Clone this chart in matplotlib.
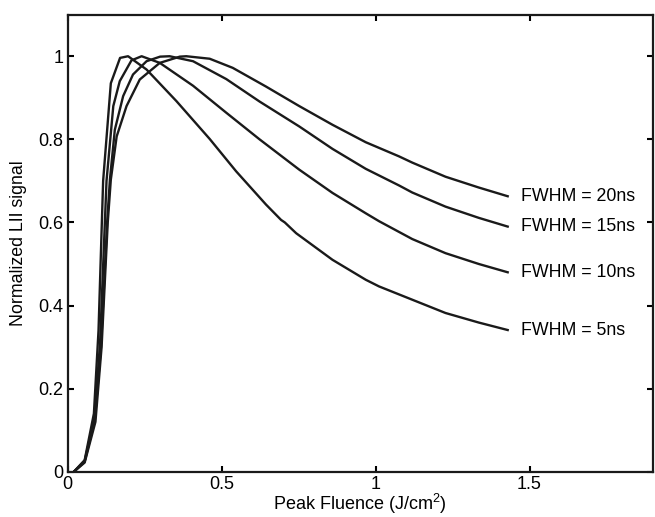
from matplotlib import pyplot as plt

plt.rcParams['font.family'] = ['Liberation Sans', 'DejaVu Sans']
plt.rcParams['mathtext.fontset'] = 'custom'
plt.rcParams['mathtext.rm'] = 'Liberation Sans'

# LII signal vs peak fluence
x_5ns = [0.02, 0.055, 0.085, 0.10, 0.115, 0.14, 0.17, 0.196, 0.256, 0.353, 0.461,
         0.547, 0.644, 0.693, 0.705, 0.742, 0.86, 0.968, 1.011, 1.119, 1.227, 1.335, 1.429]
y_5ns = [0.0, 0.028, 0.14, 0.34, 0.70, 0.935, 0.996, 1.0, 0.968, 0.892, 0.801,
         0.723, 0.643, 0.606, 0.600, 0.574, 0.51, 0.462, 0.446, 0.414, 0.382, 0.359, 0.341]

x_10ns = [0.02, 0.055, 0.087, 0.105, 0.126, 0.148, 0.169, 0.207, 0.24, 0.299, 0.407,
          0.515, 0.623, 0.752, 0.86, 0.968, 1.011, 1.119, 1.227, 1.335, 1.429]
y_10ns = [0.0, 0.026, 0.13, 0.31, 0.70, 0.88, 0.94, 0.99, 1.0, 0.984, 0.929,
          0.864, 0.80, 0.727, 0.671, 0.622, 0.603, 0.560, 0.526, 0.500, 0.480]

x_15ns = [0.02, 0.055, 0.088, 0.108, 0.128, 0.137, 0.153, 0.18, 0.212, 0.256, 0.30,
          0.331, 0.407, 0.515, 0.623, 0.752, 0.86, 0.968, 1.076, 1.119, 1.227, 1.335, 1.429]
y_15ns = [0.0, 0.024, 0.125, 0.30, 0.60, 0.703, 0.823, 0.904, 0.956, 0.988, 0.999,
          1.0, 0.988, 0.945, 0.891, 0.831, 0.777, 0.729, 0.689, 0.672, 0.638, 0.611, 0.590]

x_20ns = [0.02, 0.055, 0.09, 0.11, 0.13, 0.14, 0.159, 0.191, 0.234, 0.299, 0.364,
          0.385, 0.461, 0.536, 0.644, 0.752, 0.86, 0.968, 1.076, 1.119, 1.227, 1.335, 1.429]
y_20ns = [0.0, 0.022, 0.12, 0.30, 0.60, 0.703, 0.807, 0.88, 0.944, 0.984, 0.999,
          1.0, 0.994, 0.972, 0.927, 0.880, 0.835, 0.793, 0.759, 0.744, 0.710, 0.684, 0.663]

series = [
    (x_20ns, y_20ns, 'FWHM = 20ns'),
    (x_15ns, y_15ns, 'FWHM = 15ns'),
    (x_10ns, y_10ns, 'FWHM = 10ns'),
    (x_5ns, y_5ns, 'FWHM = 5ns'),
]

fig = plt.figure(figsize=(6.55, 5.17), dpi=100)
ax = fig.add_axes([0.1034, 0.0876, 0.8931, 0.884])

for xs, ys, label in series:
    ax.plot(xs, ys, color='#1a1a1a', linewidth=1.7)
    # label just right of where the curve ends
    ax.text(xs[-1] + 0.043, ys[-1], label, fontsize=12.8, ha='left', va='center')

ax.set_xlim(0, 1.9)
ax.set_ylim(0, 1.1)
ax.set_xticks([0, 0.5, 1, 1.5])
ax.set_xticklabels(['0', '0.5', '1', '1.5'])
ax.set_yticks([0, 0.2, 0.4, 0.6, 0.8, 1])
ax.set_yticklabels(['0', '0.2', '0.4', '0.6', '0.8', '1'])
ax.tick_params(direction='in', length=4.5, width=1.5, top=True, right=True,
               labelsize=13, pad=3)
for sp in ax.spines.values():
    sp.set_linewidth(1.6)
    sp.set_color('#1a1a1a')

ax.set_xlabel(r'Peak Fluence (J/cm$^2$)', fontsize=13, labelpad=-0.5)
ax.set_ylabel('Normalized LII signal', fontsize=12.8, labelpad=8)

fig.savefig('out.png', dpi=100)
